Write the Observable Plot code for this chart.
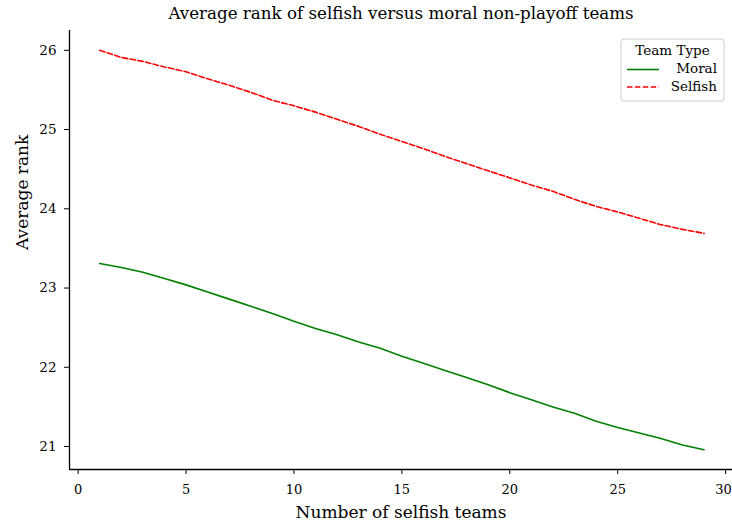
<!DOCTYPE html>
<html>
<head>
<meta charset="utf-8">
<script src="https://cdn.jsdelivr.net/npm/d3@7"></script>
<script src="https://cdn.jsdelivr.net/npm/@observablehq/plot@0.6"></script>
<style>
  html, body { margin: 0; padding: 0; background: #fff; }
  #chart svg { display: block; }
  #chart svg, #chart svg text { font-family: "DejaVu Serif", serif !important; }
</style>
</head>
<body>
<div id="chart"></div>
<script>
const teams = [1,2,3,4,5,6,7,8,9,10,11,12,13,14,15,16,17,18,19,20,21,22,23,24,25,26,27,28,29];
const moral = [23.31,23.26,23.20,23.12,23.04,22.95,22.86,22.77,22.68,22.58,22.49,22.41,22.32,22.24,22.14,22.05,21.96,21.87,21.78,21.68,21.59,21.50,21.42,21.32,21.24,21.17,21.10,21.02,20.96];
const selfish = [26.00,25.91,25.86,25.79,25.73,25.64,25.56,25.47,25.37,25.30,25.22,25.13,25.04,24.94,24.85,24.76,24.66,24.57,24.48,24.39,24.30,24.22,24.12,24.03,23.96,23.88,23.80,23.74,23.69];
const seriesNames = ["Moral", "Selfish"];
const xTicks = [0,5,10,15,20,25,30];
const yTicks = [21,22,23,24,25,26];
const titleText = "Average rank of selfish versus moral non-playoff teams";
const xLabel = "Number of selfish teams";
const yLabel = "Average rank";
const legendTitle = "Team Type";

const rows = [];
teams.forEach((t, i) => {
  rows.push({n: t, rank: moral[i], type: seriesNames[0]});
  rows.push({n: t, rank: selfish[i], type: seriesNames[1]});
});

const xDom = [-0.4, 30.32];
const yDom = [20.71, 26.25];

const plot = Plot.plot({
  width: 732,
  height: 523,
  marginLeft: 69,
  marginRight: 0,
  marginTop: 30,
  marginBottom: 54,
  style: {fontSize: "13px", color: "#000", background: "#fff"},
  x: {domain: xDom},
  y: {domain: yDom},
  marks: [
    Plot.axisX({ticks: xTicks, tickFormat: d3.format("d"), tickSize: 5, tickPadding: 10, fontSize: 13, label: null}),
    Plot.axisY({ticks: yTicks, tickFormat: d3.format("d"), tickSize: 5, tickPadding: 8, fontSize: 13.5, label: null}),
    Plot.ruleY([yDom[0]], {stroke: "#000", strokeWidth: 1.3}),
    Plot.ruleX([xDom[0]], {stroke: "#000", strokeWidth: 1.3}),
    Plot.line(rows.filter(d => d.type === "Moral"), {x: "n", y: "rank", stroke: "green", strokeWidth: 1.6}),
    Plot.line(rows.filter(d => d.type === "Selfish"), {x: "n", y: "rank", stroke: "red", strokeWidth: 1.6, strokeDasharray: "5.5,2.4"}),
    Plot.text([titleText], {frameAnchor: "top", dy: -17, fontSize: 16.7, fill: "#000", lineAnchor: "middle"}),
    Plot.text([xLabel], {frameAnchor: "bottom", dy: 43, fontSize: 17, fill: "#000", lineAnchor: "middle"}),
    Plot.text([yLabel], {frameAnchor: "left", dx: -47, rotate: -90, fontSize: 17, fill: "#000", lineAnchor: "middle"})
  ]
});

const svg = d3.select(plot);
// nudge the last x tick label so it stays inside the picture
svg.selectAll("[aria-label='x-axis tick label'] text").filter(function() { return this.textContent === "30"; })
  .attr("dx", -2);

// Legend
const lg = svg.append("g").attr("transform", "translate(621,39)");
lg.append("rect").attr("x", 0).attr("y", 0).attr("width", 103).attr("height", 62).attr("rx", 3)
  .attr("fill", "#fff").attr("fill-opacity", 0.8).attr("stroke", "#ccc").attr("stroke-width", 1);
lg.append("text").attr("x", 51.5).attr("y", 12.5).attr("text-anchor", "middle").attr("dominant-baseline", "middle")
  .attr("fill", "#000").style("font-size", "13.5px").text(legendTitle);
const colors = ["green", "red"];
const dashes = [null, "5.5,2.4"];
seriesNames.forEach((name, i) => {
  const yy = 30.5 + i * 17.5;
  lg.append("line").attr("x1", 6).attr("x2", 38).attr("y1", yy).attr("y2", yy)
    .attr("stroke", colors[i]).attr("stroke-width", 1.6).attr("stroke-dasharray", dashes[i]);
  lg.append("text").attr("x", 96).attr("y", yy).attr("text-anchor", "end").attr("dominant-baseline", "middle")
    .attr("fill", "#000").style("font-size", "13.5px").text(name);
});

document.getElementById("chart").appendChild(plot);
</script>
</body>
</html>
